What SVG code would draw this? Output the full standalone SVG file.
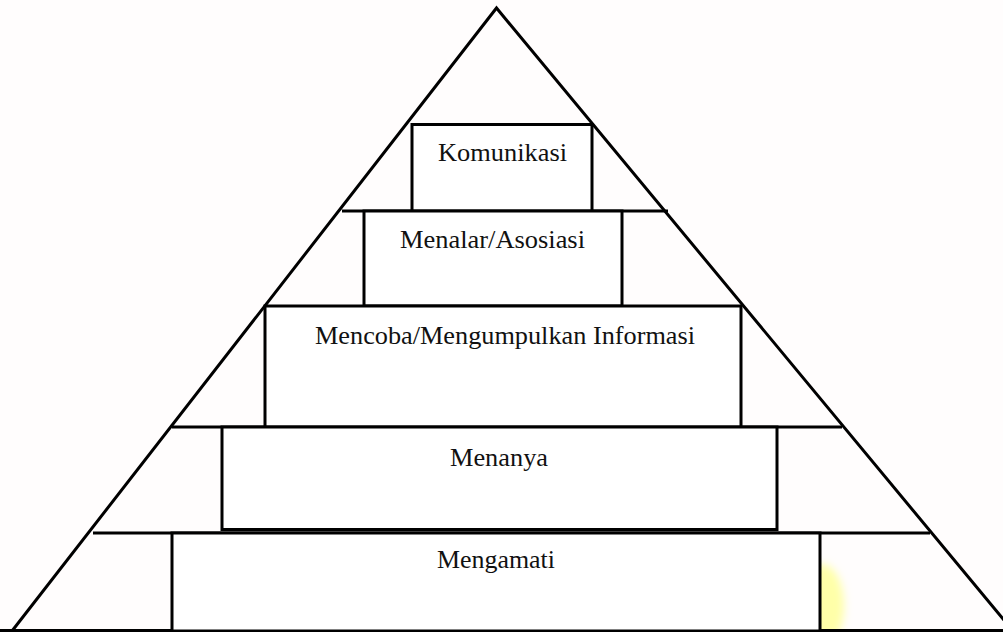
<svg xmlns="http://www.w3.org/2000/svg" width="1003" height="632" viewBox="0 0 1003 632">
  <style>
    .ln { stroke: #000; stroke-width: 3; fill: none; stroke-linecap: butt; }
    .box { stroke: #000; stroke-width: 3; fill: #ffffff; }
    .lbl { font-family: "Liberation Serif", "Times New Roman", serif; font-size: 24.5px; fill: #111; text-anchor: middle; }
  </style>
  <defs>
    <filter id="soft" x="-50%" y="-50%" width="200%" height="200%">
      <feGaussianBlur stdDeviation="4"/>
    </filter>
  </defs>

  <rect x="0" y="0" width="1003" height="632" fill="#fffdfd"/>

  <!-- faint highlighter mark beside the base tier -->
  <ellipse cx="822" cy="606" rx="22" ry="42" fill="#ffffa8" filter="url(#soft)"/>

  <!-- pyramid outline and tier dividers -->
  <g id="connectors">
    <polyline class="ln" points="12,631 496.5,8 1013,631"/>
    <line class="ln" x1="342" y1="211" x2="668" y2="211"/>
    <line class="ln" x1="172" y1="427" x2="842" y2="427"/>
    <line class="ln" x1="93" y1="533" x2="930" y2="533"/>
    <line class="ln" x1="0" y1="630.5" x2="1003" y2="630.5"/>
  </g>

  <g id="komunikasi">
    <rect class="box" x="412" y="124.5" width="180" height="86.5"/>
    <text class="lbl" x="502.5" y="161" textLength="129" lengthAdjust="spacingAndGlyphs">Komunikasi</text>
  </g>

  <g id="menalar">
    <rect class="box" x="364" y="211" width="258" height="95"/>
    <text class="lbl" x="492.5" y="248" textLength="185" lengthAdjust="spacingAndGlyphs">Menalar/Asosiasi</text>
  </g>

  <g id="mencoba">
    <rect class="box" x="265" y="306" width="476" height="121"/>
    <text class="lbl" x="505" y="344" textLength="380" lengthAdjust="spacingAndGlyphs">Mencoba/Mengumpulkan Informasi</text>
  </g>

  <g id="menanya">
    <rect class="box" x="222" y="427" width="555" height="102.5"/>
    <text class="lbl" x="499" y="466" textLength="98" lengthAdjust="spacingAndGlyphs">Menanya</text>
  </g>

  <g id="mengamati">
    <rect class="box" x="172" y="533" width="648" height="98"/>
    <text class="lbl" x="496" y="568" textLength="118" lengthAdjust="spacingAndGlyphs">Mengamati</text>
  </g>
</svg>
